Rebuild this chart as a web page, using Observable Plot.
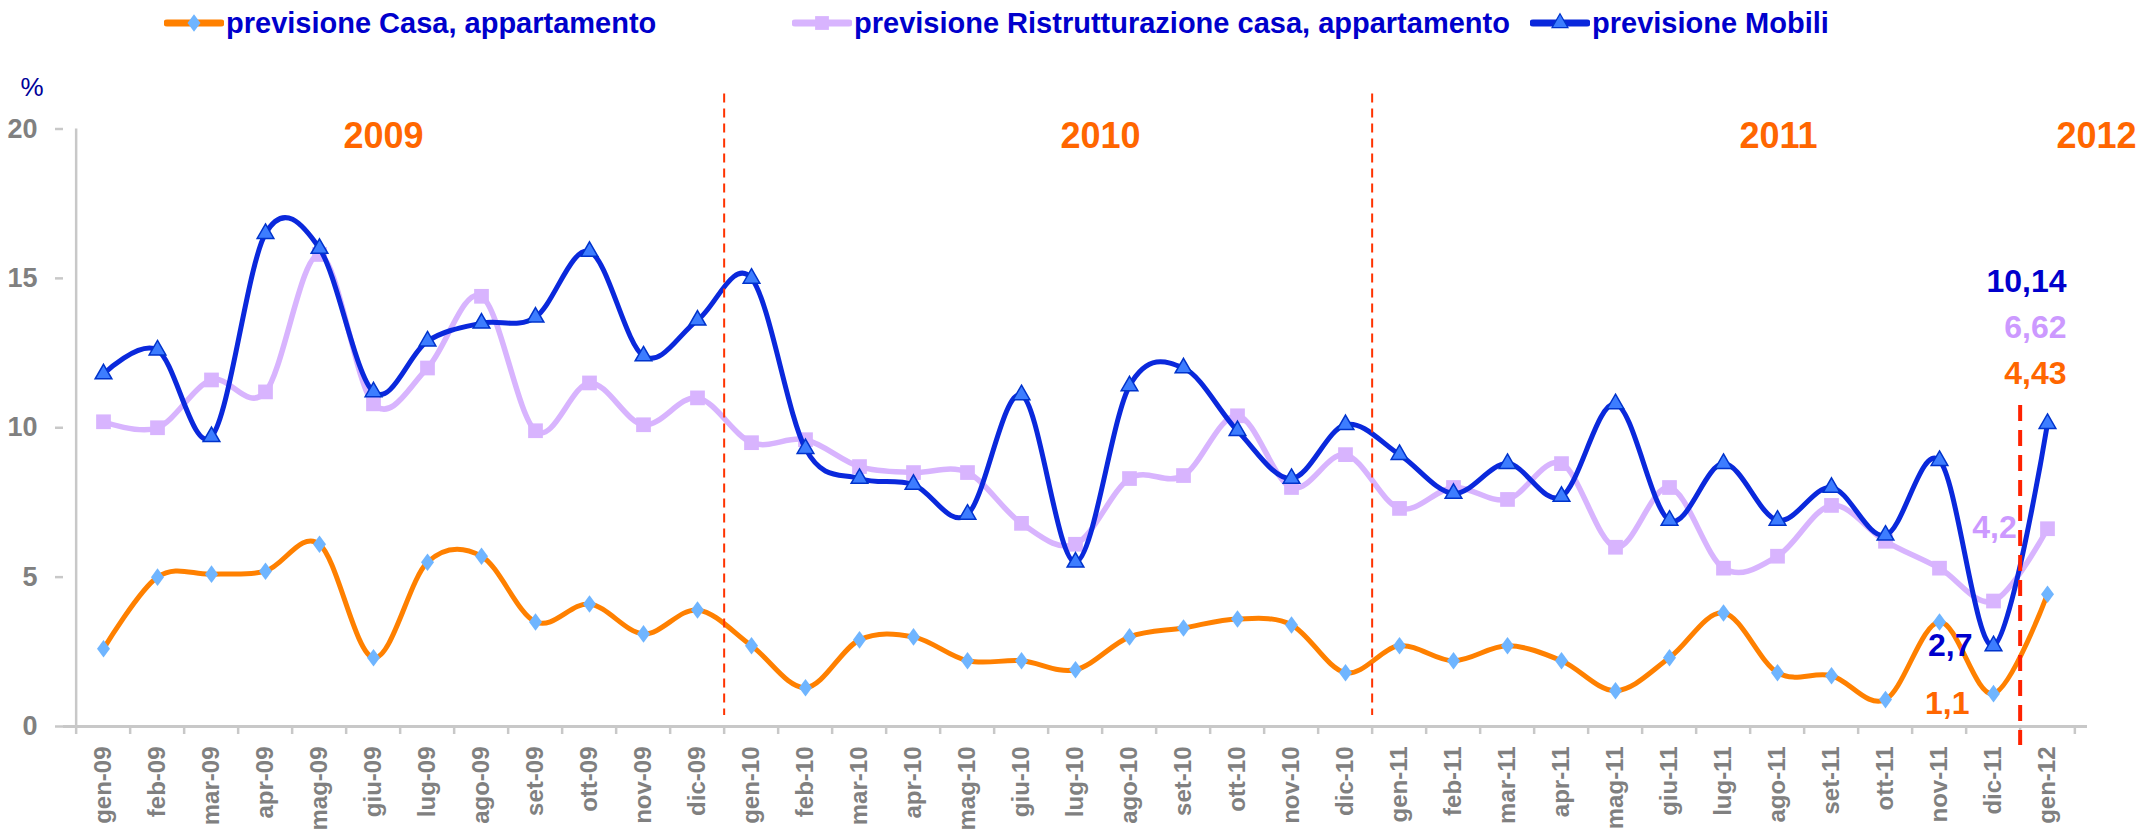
<!DOCTYPE html>
<html><head><meta charset="utf-8">
<script src="https://cdn.jsdelivr.net/npm/d3@7"></script>
<script src="https://cdn.jsdelivr.net/npm/@observablehq/plot@0.6"></script>
<style>
body{margin:0;background:#fff;font-family:"Liberation Sans",Arial,sans-serif;}
#wrap{position:relative;width:2144px;height:832px;overflow:hidden;background:#fff}
#legend{position:relative;height:46px;}
.item{position:absolute;top:0;height:46px;display:flex;align-items:center;font-weight:bold;font-size:29px;color:#0000CC;white-space:nowrap}
.item svg{display:block;margin-right:2px}
#chart svg{display:block}
</style></head><body>
<div id="wrap"><div id="legend"></div><div id="chart"></div></div>
<script>
// ---- data ----
const months = ["gen-09","feb-09","mar-09","apr-09","mag-09","giu-09","lug-09","ago-09","set-09","ott-09","nov-09","dic-09",
  "gen-10","feb-10","mar-10","apr-10","mag-10","giu-10","lug-10","ago-10","set-10","ott-10","nov-10","dic-10",
  "gen-11","feb-11","mar-11","apr-11","mag-11","giu-11","lug-11","ago-11","set-11","ott-11","nov-11","dic-11","gen-12"];
const casa = [2.6,5.0,5.1,5.2,6.1,2.3,5.5,5.7,3.5,4.1,3.1,3.9,
  2.7,1.3,2.9,3.0,2.2,2.2,1.9,3.0,3.3,3.6,3.4,1.8,
  2.7,2.2,2.7,2.2,1.2,2.3,3.8,1.8,1.7,0.9,3.5,1.1,4.43];
const ristrutturazione = [10.2,10.0,11.6,11.2,15.8,10.8,12.0,14.4,9.9,11.5,10.1,11.0,
  9.5,9.6,8.7,8.5,8.5,6.8,6.1,8.3,8.4,10.4,8.0,9.1,
  7.3,8.0,7.6,8.8,6.0,8.0,5.3,5.7,7.4,6.2,5.3,4.2,6.62];
const mobili = [11.8,12.6,9.7,16.5,16.0,11.2,12.9,13.5,13.7,15.9,12.4,13.6,
  15.0,9.3,8.3,8.1,7.1,11.1,5.5,11.4,12.0,9.9,8.3,10.1,
  9.1,7.8,8.8,7.7,10.8,6.9,8.8,6.9,8.0,6.4,8.9,2.7,10.14];
const seriesNames = ["previsione Casa, appartamento","previsione Ristrutturazione casa, appartamento","previsione Mobili"];
const yTicks = [0,5,10,15,20];
const yearLabels = ["2009","2010","2011","2012"];
const yearAnchorMonths = ["giu-09","lug-10","ago-11","gen-12"];
const yearDividers = ["gen-10","gen-11"];
const forecastDivider = "gen-12";
const highlightMonth = "dic-11";
const unitLabel = "%";

// ---- styles / layout ----
const C = {orange:"#FF8000", diamond:"#6FB5FF", lilac:"#D8B4FE", blue:"#0A28DC", triFill:"#3D7DFF", triStroke:"#0033CC",
  txtBlue:"#0000CC", txtLilac:"#CC99FF", txtOrange:"#FF6600", gray:"#808080", axis:"#C8C8C8", red:"#FF3300"};
const W = 2144, H = 786, ML = 63, MR = 57, MT = 82.5, MB = 106;
const step = (W - ML - MR) / months.length;
const yearDx = [10, 25, 1, 49];
const fam = "Liberation Sans, Arial, sans-serif";
const fmt = v => String(v).replace(".", ",");

// rhombus marker (wider than d3's diamond)
const rhombus = {draw(ctx, size) {
  const s = Math.sqrt(size / Math.PI);
  ctx.moveTo(0, -s * 1.35); ctx.lineTo(s, 0); ctx.lineTo(0, s * 1.35); ctx.lineTo(-s, 0); ctx.closePath();
}};

const rows = months.map((m, i) => ({month: m, casa: casa[i], ristr: ristrutturazione[i], mobili: mobili[i]}));
const lastRow = rows[rows.length - 1];
const hiRow = rows.find(r => r.month === highlightMonth);

// ---- legend ----
const legendItems = [
  {name: seriesNames[0], color: C.orange, symbol: rhombus, size: Math.PI * 42, fill: C.diamond, stroke: "none", left: 164},
  {name: seriesNames[1], color: C.lilac, symbol: d3.symbolSquare, size: 190, fill: C.lilac, stroke: "none", left: 792},
  {name: seriesNames[2], color: C.blue, symbol: d3.symbolTriangle, size: 110, fill: C.triFill, stroke: C.triStroke, left: 1530}
];
const legend = d3.select("#legend");
for (const it of legendItems) {
  const div = legend.append("div").attr("class", "item").style("left", it.left + "px");
  const s = div.append("svg").attr("width", 60).attr("height", 26);
  s.append("line").attr("x1", 3).attr("x2", 57).attr("y1", 13).attr("y2", 13)
    .attr("stroke", it.color).attr("stroke-width", 7).attr("stroke-linecap", "round");
  s.append("path").attr("transform", "translate(30,13)").attr("d", d3.symbol(it.symbol, it.size)())
    .attr("fill", it.fill).attr("stroke", it.stroke).attr("stroke-width", 1.2);
  div.append("span").text(it.name);
}

// ---- chart ----
const txt = {fontFamily: fam, fontWeight: "bold"};
const chart = Plot.plot({
  width: W, height: H,
  marginLeft: ML, marginRight: MR, marginTop: MT, marginBottom: MB,
  style: {fontFamily: fam, background: "white", overflow: "visible"},
  x: {type: "point", domain: months, padding: 0.5, axis: null},
  y: {domain: [0, 20], axis: null},
  marks: [
    // y axis
    Plot.ruleX([months[0]], {dx: -step / 2, stroke: C.axis, strokeWidth: 2.5}),
    Plot.axisY({ticks: yTicks, tickSize: 8, text: null, stroke: C.axis, strokeWidth: 2.5, label: null}),
    Plot.axisY({ticks: yTicks, tickSize: 0, tickPadding: 26, fill: C.gray, fontSize: 27, fontWeight: "bold", label: null}),
    // x axis
    Plot.ruleY([0], {stroke: C.axis, strokeWidth: 3}),
    Plot.axisX({ticks: months, tickSize: 8, text: null, dx: -step / 2, stroke: C.axis, strokeWidth: 2.5, label: null}),
    Plot.axisX({ticks: [months[months.length - 1]], tickSize: 8, text: null, dx: step / 2, stroke: C.axis, strokeWidth: 2.5, label: null}),
    Plot.axisX({ticks: months, tickSize: 0, tickPadding: 20, tickRotate: -90, fill: C.gray, fontSize: 24, fontWeight: "bold", label: null}),
    // series
    Plot.line(rows, {x: "month", y: "casa", curve: "cardinal", stroke: C.orange, strokeWidth: 5}),
    Plot.dot(rows, {x: "month", y: "casa", symbol: rhombus, r: 6.5, fill: C.diamond, stroke: "none"}),
    Plot.line(rows, {x: "month", y: "ristr", curve: "cardinal", stroke: C.lilac, strokeWidth: 5.5}),
    Plot.dot(rows, {x: "month", y: "ristr", symbol: "square", r: 8.3, fill: C.lilac, stroke: "none"}),
    Plot.line(rows, {x: "month", y: "mobili", curve: "cardinal", stroke: C.blue, strokeWidth: 5}),
    Plot.dot(rows, {x: "month", y: "mobili", symbol: "triangle", r: 6.2, fill: C.triFill, stroke: C.triStroke, strokeWidth: 1.5}),
    // dividers
    Plot.ruleX(yearDividers, {dx: -step / 2, stroke: C.red, strokeWidth: 2, strokeDasharray: "9,6", insetTop: -35, insetBottom: 11}),
    Plot.ruleX([forecastDivider], {dx: -step / 2, stroke: "#FF2200", strokeWidth: 4, strokeDasharray: "16,9", insetTop: 276.5, insetBottom: -19}),
    // unit and year labels
    Plot.text([unitLabel], {frameAnchor: "top-left", lineAnchor: "middle", dx: -43, dy: -41.5, fill: "#000099", fontSize: 26, fontFamily: fam}),
    ...yearLabels.map((t, i) => Plot.text([t], {x: () => yearAnchorMonths[i], frameAnchor: "top", lineAnchor: "middle", dx: yearDx[i], dy: 7.5,
      fill: C.txtOrange, fontSize: 36, ...txt})),
    // last values
    ...[["mobili", C.txtBlue], ["ristr", C.txtLilac], ["casa", C.txtOrange]].map(([k, col], i) =>
      Plot.text([lastRow], {x: "month", frameAnchor: "top", lineAnchor: "middle", text: d => fmt(d[k]), textAnchor: "end", dx: 19, dy: 152.5 + i * 46,
        fill: col, fontSize: 32, ...txt})),
    // highlighted minimum values
    Plot.text([hiRow], {x: "month", y: "mobili", text: d => fmt(d.mobili), textAnchor: "end", dx: -21, fill: C.txtBlue, fontSize: 32, ...txt}),
    Plot.text([hiRow], {x: "month", y: "ristr", text: d => fmt(d.ristr), dx: 1, dy: -73, fill: C.txtLilac, fontSize: 32, ...txt}),
    Plot.text([hiRow], {x: "month", y: "casa", text: d => fmt(d.casa), textAnchor: "end", dx: -24, dy: 10, fill: C.txtOrange, fontSize: 32, ...txt})
  ]
});
document.getElementById("chart").appendChild(chart);
</script>
</body></html>
